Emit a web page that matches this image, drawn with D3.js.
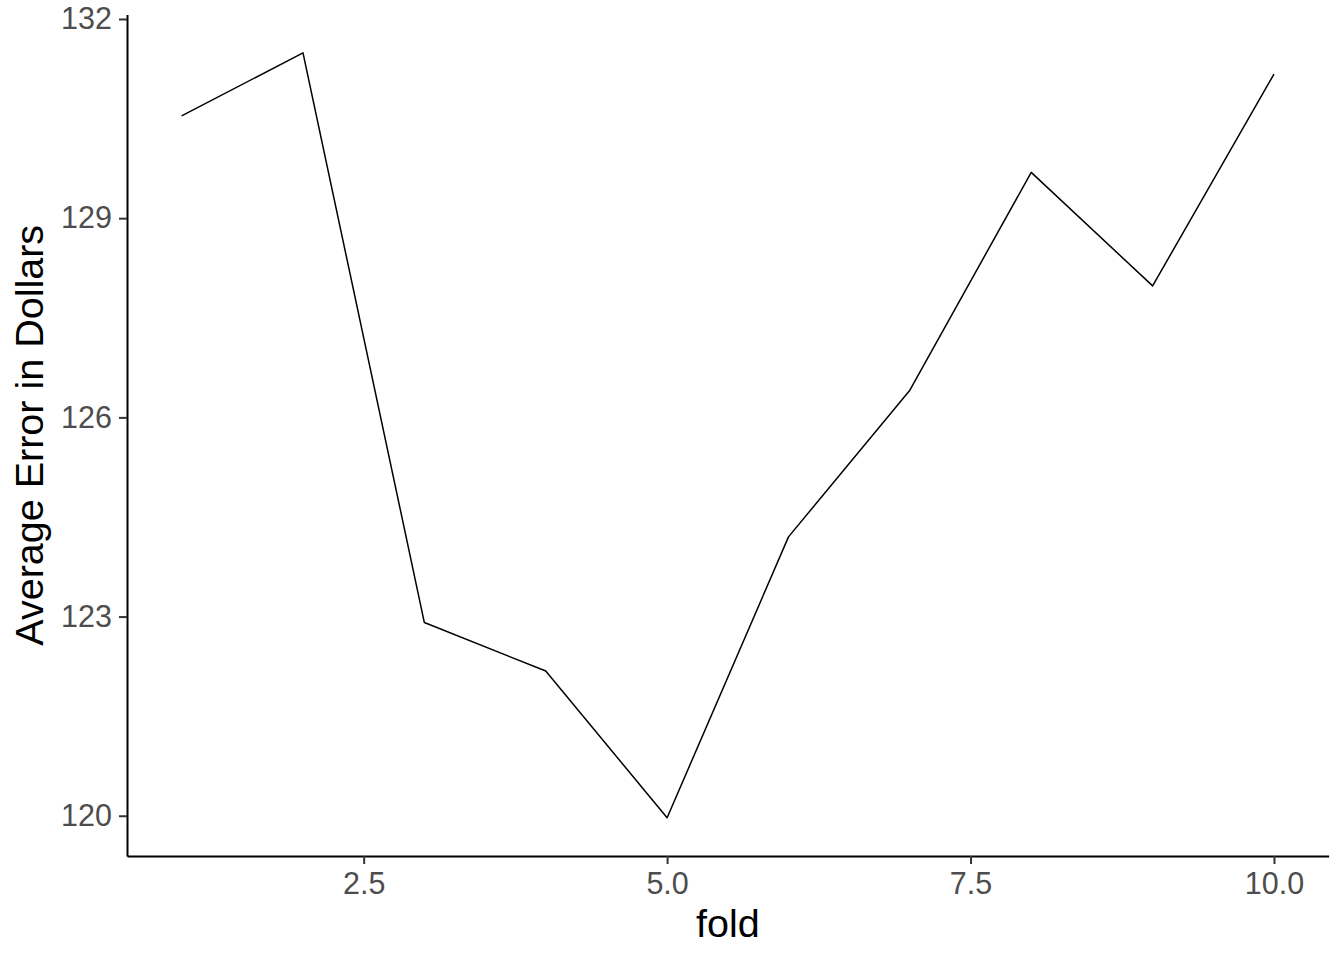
<!DOCTYPE html>
<html lang="en">
<head>
<meta charset="UTF-8">
<title>Average Error by Fold</title>
<script src="https://cdn.jsdelivr.net/npm/d3@7"></script>
<style>
  body { margin: 0; background: #ffffff; }
  text { font-family: "Liberation Sans", Arial, sans-serif; }
</style>
</head>
<body>
<div id="chart"></div>
<script>
// data
var folds = [1, 2, 3, 4, 5, 6, 7, 8, 9, 10];
var avgError = [130.54, 131.49, 122.91, 122.18, 119.97, 124.20, 126.41, 129.69, 127.98, 131.17];
var xTicks = [2.5, 5.0, 7.5, 10.0];
var yTicks = [120, 123, 126, 129, 132];

var W = 1344, H = 960;
var panel = {left: 127, right: 1328.6, top: 14.6, bottom: 856};

// ggplot style 5% expansion of the data range
function expand(ext) {
    var pad = (ext[1] - ext[0]) * 0.05;
    return [ext[0] - pad, ext[1] + pad];
}

var x = d3.scaleLinear()
    .domain(expand(d3.extent(folds)))
    .range([panel.left, panel.right]);

var y = d3.scaleLinear()
    .domain(expand(d3.extent(avgError)))
    .range([panel.bottom, panel.top]);

var svg = d3.select("#chart")
    .append("svg")
        .attr("width", W)
        .attr("height", H);

// the line
var data = folds.map(function (f, i) { return {fold: f, err: avgError[i]}; });

svg.append("path")
    .datum(data)
    .attr("fill", "none")
    .attr("stroke", "#000000")
    .attr("stroke-width", 1.5)
    .attr("stroke-linejoin", "round")
    .attr("d", d3.line()
        .x(function (d) { return x(d.fold); })
        .y(function (d) { return y(d.err); }));

// y axis
var gy = svg.append("g")
    .attr("transform", "translate(" + panel.left + ",0)")
    .call(d3.axisLeft(y)
        .tickValues(yTicks)
        .tickFormat(d3.format("d"))
        .tickSize(8)
        .tickSizeOuter(0)
        .tickPadding(7));

// x axis
var gx = svg.append("g")
    .attr("transform", "translate(0," + panel.bottom + ")")
    .call(d3.axisBottom(x)
        .tickValues(xTicks)
        .tickFormat(d3.format(".1f"))
        .tickSize(8)
        .tickSizeOuter(0)
        .tickPadding(8));

[gx, gy].forEach(function (g) {
    g.select(".domain")
        .attr("stroke", "#000000")
        .attr("stroke-width", 2);
    g.selectAll(".tick line")
        .attr("stroke", "#333333")
        .attr("stroke-width", 2);
    g.selectAll(".tick text")
        .attr("fill", "#4d4d4d")
        .style("font-size", "30.5px")
        .style("font-family", "'Liberation Sans', Arial, sans-serif");
});

// axis titles
svg.append("text")
    .attr("x", (panel.left + panel.right) / 2)
    .attr("y", 937)
    .attr("text-anchor", "middle")
    .style("font-size", "39.5px")
    .attr("fill", "#000000")
    .text("fold");

svg.append("text")
    .attr("transform", "translate(43," + ((panel.top + panel.bottom) / 2) + ") rotate(-90)")
    .attr("text-anchor", "middle")
    .style("font-size", "39.5px")
    .attr("fill", "#000000")
    .text("Average Error in Dollars");
</script>
</body>
</html>
